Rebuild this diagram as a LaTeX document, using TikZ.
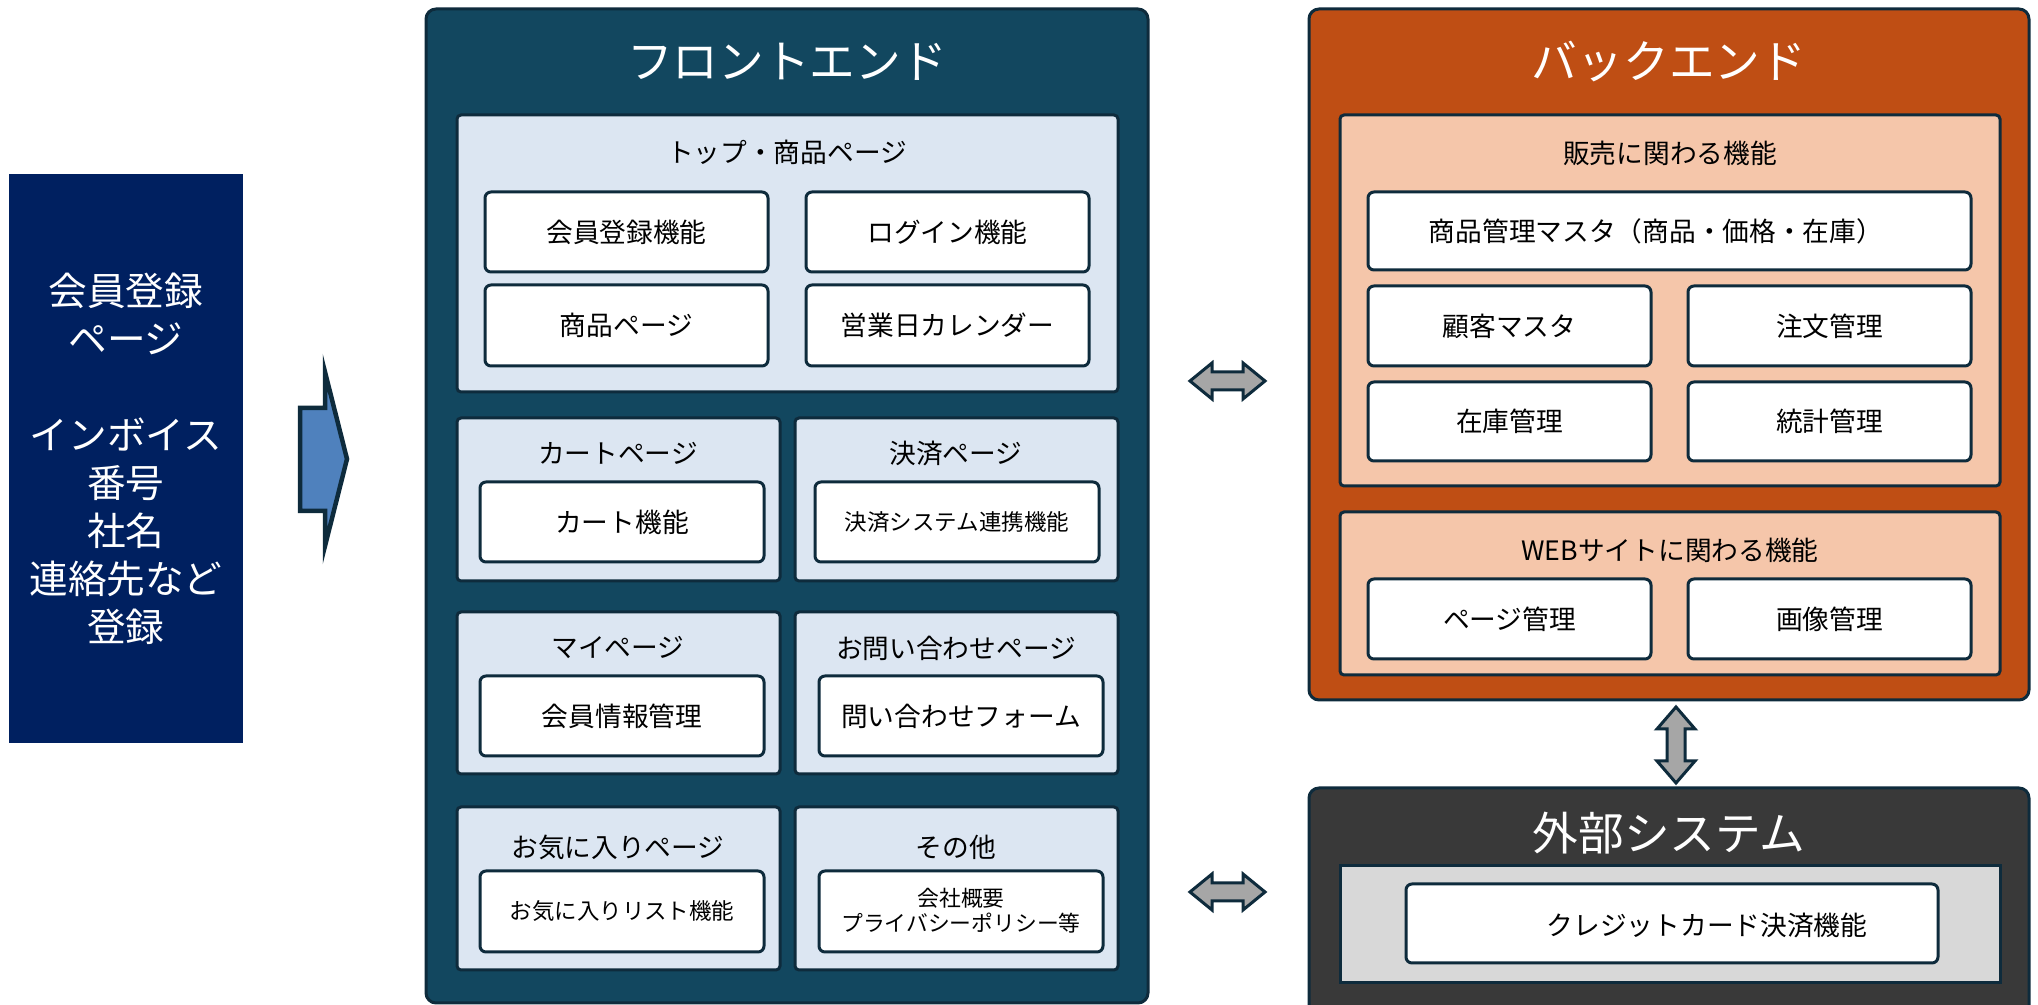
\documentclass[tikz,border=0pt]{standalone}
\usepackage{fontspec}
\setmainfont{Noto Sans CJK JP}
\definecolor{navy}{HTML}{002060}
\definecolor{bd}{HTML}{0E2B3C}
\definecolor{fe}{HTML}{12475F}
\definecolor{lb}{HTML}{DCE6F2}
\definecolor{be}{HTML}{BF4E14}
\definecolor{bp}{HTML}{F5C6AA}
\definecolor{ex}{HTML}{393939}
\definecolor{gp}{HTML}{D8D8D8}
\definecolor{ab}{HTML}{4F81BD}
\definecolor{ag}{HTML}{A6A6A6}
\tikzset{
  outerbox/.style={draw=bd, line width=0.3mm, rounded corners=1mm, inner sep=0pt},
  panel/.style={draw=bd, line width=0.3mm, rounded corners=0.4mm, fill=lb, inner sep=0pt},
  fbox/.style={draw=bd, line width=0.3mm, rounded corners=0.6mm, fill=white, inner sep=0pt, font=\fontsize{7.6}{9}\selectfont},
  ptitle/.style={inner sep=0pt, font=\fontsize{7.6}{9}\selectfont, text=black},
  btitle/.style={inner sep=0pt, font=\fontsize{13}{15}\selectfont, text=white},
  smalltext/.style={font=\fontsize{6.4}{7.1}\selectfont},
  garrow/.style={draw=bd, line width=0.3mm, fill=ag, line join=miter},
}
\begin{document}
\begin{tikzpicture}[x=0.1mm,y=-0.1mm]
\useasboundingbox (0,0) rectangle (2038,1005);
\clip (0,0) rectangle (2038,1005);
\fill[white] (0,0) rectangle (2038,1005);

% left box
\node[fill=navy, minimum width=23.4mm, minimum height=56.9mm, inner sep=0pt] (left) at (126,458.5) {};
\node[text=white, align=center, font=\fontsize{11}{13.66}\selectfont] (lefttext) at (126,459)
  {会員登録\\ページ\\[13.66pt]インボイス\\番号\\社名\\連絡先など\\登録};

% block arrow
\draw[line width=0.45mm, draw=bd, fill=ab, line join=miter]
  (300,408) -- (325,408) -- (325,372) -- (347,459) -- (325,546) -- (325,511) -- (300,511) -- cycle;

% frontend
\node[outerbox, fill=fe, minimum width=72.2mm, minimum height=99.4mm] (front) at (787,506) {};
\node[btitle] (fronttitle) at (787,62) {フロントエンド};

\node[panel, minimum width=66.1mm, minimum height=27.7mm] (ptop) at (787.5,253.5) {};
\node[ptitle] (ttop) at (787,152) {トップ・商品ページ};
\node[fbox, minimum width=28.3mm, minimum height=8.0mm] (reg) at (626.5,232) {会員登録機能};
\node[fbox, minimum width=28.3mm, minimum height=8.0mm] (login) at (947.5,232) {ログイン機能};
\node[fbox, minimum width=28.3mm, minimum height=8.1mm] (item) at (626.5,325.5) {商品ページ};
\node[fbox, minimum width=28.3mm, minimum height=8.1mm] (cal) at (947.5,325.5) {営業日カレンダー};

\node[panel, minimum width=32.3mm, minimum height=16.3mm] (pcart) at (618.5,499.5) {};
\node[ptitle] (tcart) at (618,453) {カートページ};
\node[fbox, minimum width=28.4mm, minimum height=8.0mm] (cart) at (622,522) {カート機能};

\node[panel, minimum width=32.3mm, minimum height=16.3mm] (ppay) at (956.5,499.5) {};
\node[ptitle] (tpay) at (956,453) {決済ページ};
\node[fbox, smalltext, minimum width=28.4mm, minimum height=8.0mm] (pay) at (957,522) {決済システム連携機能};

\node[panel, minimum width=32.3mm, minimum height=16.2mm] (pmy) at (618.5,693) {};
\node[ptitle] (tmy) at (618,648) {マイページ};
\node[fbox, minimum width=28.4mm, minimum height=8.0mm] (member) at (622,716) {会員情報管理};

\node[panel, minimum width=32.3mm, minimum height=16.2mm] (pinq) at (956.5,693) {};
\node[ptitle] (tinq) at (956,648) {お問い合わせページ};
\node[fbox, minimum width=28.4mm, minimum height=8.0mm] (inq) at (961,716) {問い合わせフォーム};

\node[panel, minimum width=32.3mm, minimum height=16.3mm] (pfav) at (618.5,888.5) {};
\node[ptitle] (tfav) at (618,847) {お気に入りページ};
\node[fbox, smalltext, minimum width=28.4mm, minimum height=8.1mm] (fav) at (622,911.5) {お気に入りリスト機能};

\node[panel, minimum width=32.3mm, minimum height=16.3mm] (pother) at (956.5,888.5) {};
\node[ptitle] (tother) at (956,847) {その他};
\node[fbox, minimum width=28.4mm, minimum height=8.1mm] (other) at (961,911.5) {};
\node[align=center, font=\fontsize{6.2}{7.1}\selectfont, inner sep=0pt] (othertext) at (961,911) {会社概要\\プライバシーポリシー等};

% backend
\node[outerbox, fill=be, minimum width=72.0mm, minimum height=69.1mm] (back) at (1669,354.5) {};
\node[btitle] (backtitle) at (1669,62) {バックエンド};

\node[panel, fill=bp, minimum width=66.0mm, minimum height=37.1mm] (psales) at (1670,300.5) {};
\node[ptitle] (tsales) at (1670,153) {販売に関わる機能};
\node[fbox, minimum width=60.3mm, minimum height=7.8mm] (master) at (1669.5,231) {};
\node[inner sep=0pt, font=\fontsize{7.6}{9}\selectfont] (mastertext) at (1656,231) {商品管理マスタ（商品・価格・在庫）};
\node[fbox, minimum width=28.3mm, minimum height=8.0mm] (cust) at (1509.5,326) {顧客マスタ};
\node[fbox, minimum width=28.3mm, minimum height=8.0mm] (order) at (1829.5,326) {注文管理};
\node[fbox, minimum width=28.3mm, minimum height=7.9mm] (stock) at (1509.5,421.5) {在庫管理};
\node[fbox, minimum width=28.3mm, minimum height=7.9mm] (stats) at (1829.5,421.5) {統計管理};

\node[panel, fill=bp, minimum width=66.0mm, minimum height=16.3mm] (pweb) at (1670,593.5) {};
\node[ptitle] (tweb) at (1670,550) {WEBサイトに関わる機能};
\node[fbox, minimum width=28.3mm, minimum height=8.0mm] (pagem) at (1509.5,619) {ページ管理};
\node[fbox, minimum width=28.3mm, minimum height=8.0mm] (imgm) at (1829.5,619) {画像管理};

% external
\node[outerbox, fill=ex, minimum width=72.0mm, minimum height=25.2mm] (ext) at (1669,914) {};
\node[btitle] (exttitle) at (1669,833) {外部システム};
\node[panel, fill=gp, rounded corners=0pt, minimum width=66.0mm, minimum height=11.7mm] (pext) at (1670,924.5) {};
\node[fbox, minimum width=53.2mm, minimum height=7.9mm] (credit) at (1672,923.5) {};
\node[inner sep=0pt, font=\fontsize{7.6}{9}\selectfont] (credittext) at (1707,925) {クレジットカード決済機能};

% double arrows
\draw[garrow] (1190,381) -- (1212,363) -- (1212,372) -- (1243,372) -- (1243,363) -- (1265,381)
  -- (1243,399) -- (1243,390) -- (1212,390) -- (1212,399) -- cycle;
\draw[garrow] (1190,892) -- (1212,874) -- (1212,883) -- (1243,883) -- (1243,874) -- (1265,892)
  -- (1243,910) -- (1243,901) -- (1212,901) -- (1212,910) -- cycle;
\draw[garrow] (1676,707) -- (1695,729) -- (1685,729) -- (1685,761) -- (1695,761) -- (1676,783)
  -- (1657,761) -- (1667,761) -- (1667,729) -- (1657,729) -- cycle;
\end{tikzpicture}
\end{document}
